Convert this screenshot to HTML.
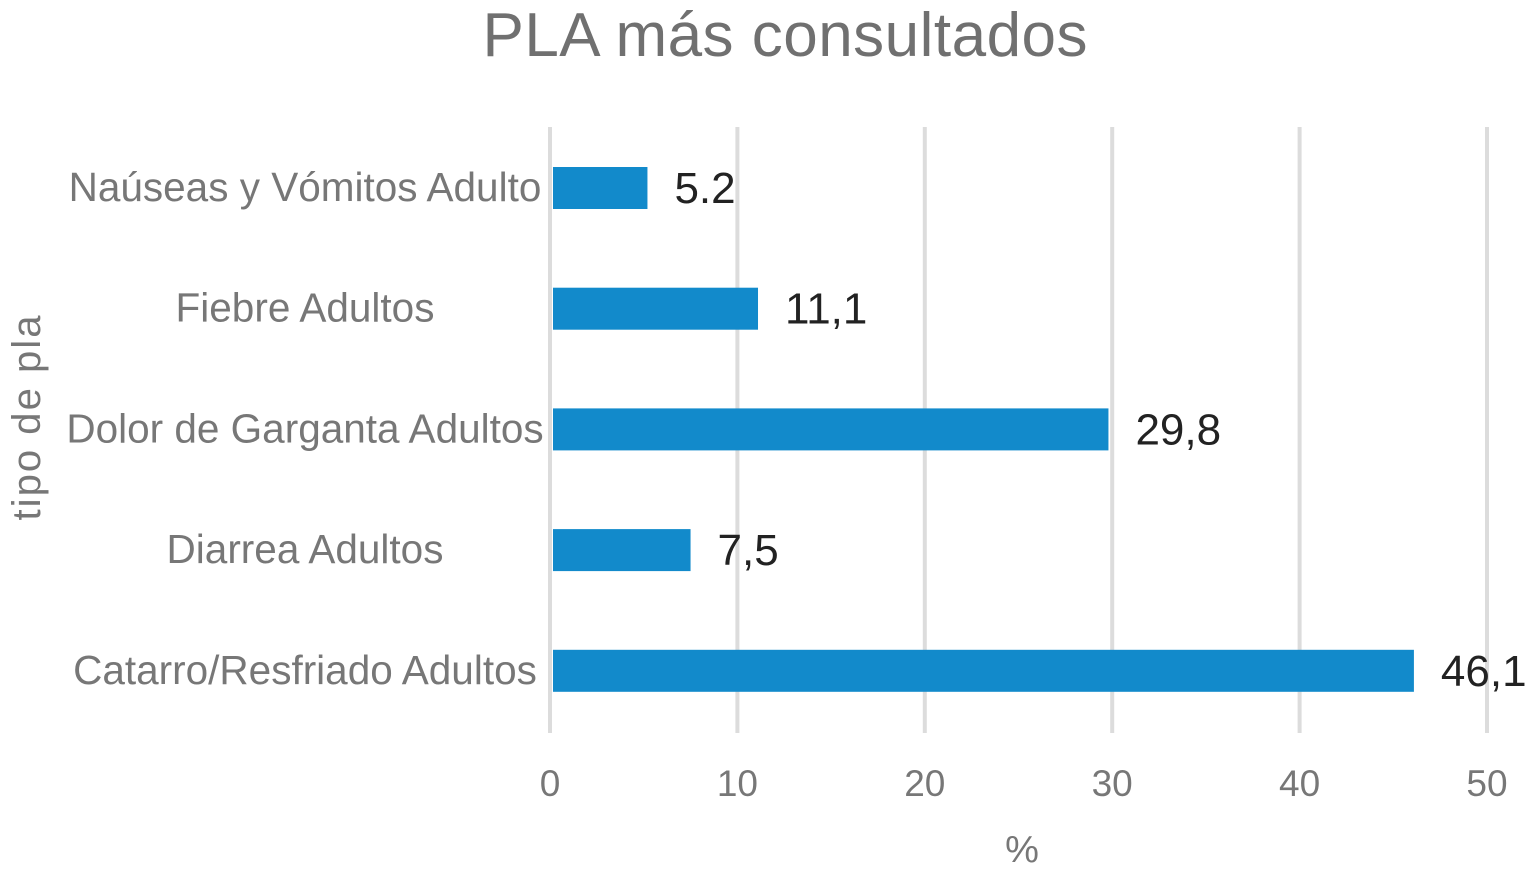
<!DOCTYPE html>
<html><head><meta charset="utf-8"><style>
html,body{margin:0;padding:0;background:#fff;}
svg{display:block;font-family:"Liberation Sans",sans-serif;}
</style></head><body>
<svg id="chart" width="1529" height="885">
<text x="785" y="56" text-anchor="middle" font-size="62" textLength="605" fill="#707070">PLA más consultados</text>
<text transform="translate(40,418) rotate(-90)" text-anchor="middle" font-size="40" textLength="205" fill="#777">tipo de pla</text>
<text x="1022" y="862" text-anchor="middle" font-size="38" fill="#777">%</text>
<g id="grid"></g><g id="bars"></g>
</svg>
<script>
const categories = ["Naúseas y Vómitos Adulto","Fiebre Adultos","Dolor de Garganta Adultos","Diarrea Adultos","Catarro/Resfriado Adultos"];
const values = [5.2,11.1,29.8,7.5,46.1];
const valueLabels = ["5.2","11,1","29,8","7,5","46,1"];
const ticks = [0,10,20,30,40,50];
const NS="http://www.w3.org/2000/svg";
const x = v => 550 + v*18.74;
const y = i => 188 + i*120.7;
function mk(tag, attrs, parent){const e=document.createElementNS(NS,tag);for(const k in attrs)e.setAttribute(k,attrs[k]);parent.appendChild(e);return e;}
const grid=document.getElementById('grid'), bars=document.getElementById('bars');
ticks.forEach(t=>{
  const l=mk('line',{x1:x(t),x2:x(t),y1:127,y2:733,stroke:'#dcdcdc','stroke-width':4},grid);
  
  
  const tx=mk('text',{x:x(t),y:796,'text-anchor':'middle','font-size':37,fill:'#777'},grid);
  tx.textContent=t;
  
  
});
categories.forEach((c,i)=>{
  const r=mk('rect',{x:553,y:y(i)-21,width:x(values[i])-553,height:42,fill:'#128acb'},bars);
  
  
  const cl=mk('text',{x:305,y:y(i)+13,'text-anchor':'middle','font-size':40.5,fill:'#777'},bars);
  cl.textContent=c;
  
  
  const vl=mk('text',{x:x(values[i])+27,y:y(i)+15,'font-size':44,fill:'#222'},bars);
  vl.textContent=valueLabels[i];
  
  
});
</script>
</body></html>
